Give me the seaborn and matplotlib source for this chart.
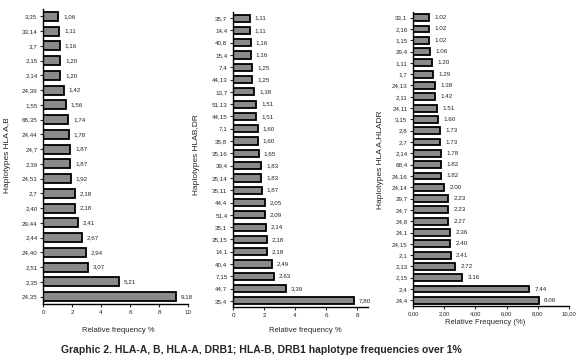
import matplotlib
matplotlib.use("Agg")
import matplotlib.pyplot as plt
import seaborn as sns
import pandas as pd

# HLA-A,B haplotypes
ab_labels = ["3,35", "33,14", "3,7", "2,15", "2,14", "24,39", "1,55", "68,35", "24,44", "24,7",
             "2,39", "24,51", "2,7", "2,40", "29,44", "2,44", "24,40", "2,51", "2,35", "24,35"]
ab_values = [1.06, 1.11, 1.16, 1.20, 1.20, 1.42, 1.56, 1.74, 1.78, 1.87,
             1.87, 1.92, 2.18, 2.18, 2.41, 2.67, 2.94, 3.07, 5.21, 9.18]

# HLA-B,DR haplotypes
bdr_labels = ["35,7", "14,4", "40,8", "15,4", "7,4", "44,13", "13,7", "51,13", "44,15", "7,1",
              "35,8", "35,16", "39,4", "35,14", "35,11", "44,4", "51,4", "35,1", "35,15", "14,1",
              "40,4", "7,15", "44,7", "35,4"]
bdr_values = [1.11, 1.11, 1.16, 1.16, 1.25, 1.25, 1.38, 1.51, 1.51, 1.60,
              1.60, 1.65, 1.83, 1.83, 1.87, 2.05, 2.09, 2.14, 2.18, 2.18,
              2.49, 2.63, 3.39, 7.80]

# HLA-A,DR haplotypes
adr_labels = ["33,1", "2,16", "1,15", "29,4", "1,11", "1,7", "24,13", "2,11", "24,11", "3,15",
              "2,8", "2,7", "2,14", "68,4", "24,16", "24,14", "29,7", "24,7", "24,8", "24,1",
              "24,15", "2,1", "2,13", "2,15", "2,4", "24,4"]
adr_values = [1.02, 1.02, 1.02, 1.06, 1.20, 1.29, 1.38, 1.42, 1.51, 1.60,
              1.73, 1.73, 1.78, 1.82, 1.82, 2.00, 2.23, 2.23, 2.27, 2.36,
              2.40, 2.41, 2.72, 3.16, 7.44, 8.06]

sns.set_style("white")
plt.rcParams['font.family'] = ['Liberation Sans', 'DejaVu Sans']

W, H = 579, 361
fig = plt.figure(figsize=(W / 100, H / 100), dpi=100)

def px_axes(left, right, top, bottom):
    return fig.add_axes([left / W, (H - bottom) / H, (right - left) / W, (bottom - top) / H])

def draw_panel(ax, labels, values, xmax, xticks, ticklabels, bar_w, dec_sep, xfs=4.5):
    df = pd.DataFrame({'hap': labels, 'freq': values})
    sns.barplot(data=df, x='freq', y='hap', orient='h', ax=ax, color='#8a8a8a',
                edgecolor='black', linewidth=1.3, width=bar_w, saturation=1)
    for i, v in enumerate(values):
        txt = f"{v:.2f}".replace('.', dec_sep)
        ax.text(v + xmax * 0.035, i, txt, va='center', ha='left', fontsize=4.5)
    ax.set_xlim(0, xmax)
    ax.set_ylim(len(labels) - 0.5, -0.5)
    ax.set_xticks(xticks)
    ax.set_xticklabels(ticklabels, fontsize=xfs)
    ax.tick_params(axis='y', labelsize=4.5, length=2, width=0.8, pad=2, left=True)
    ax.tick_params(axis='x', length=2, width=0.8, pad=2, bottom=True)
    ax.set_xlabel('')
    ax.set_ylabel('')
    for s in ['top', 'right']:
        ax.spines[s].set_visible(False)
    for s in ['left', 'bottom']:
        ax.spines[s].set_linewidth(1.0)
        ax.spines[s].set_color('black')

ax1 = px_axes(43, 188, 9, 304)
draw_panel(ax1, ab_labels, ab_values, 10, [0, 2, 4, 6, 8, 10],
           ["0", "2", "4", "6", "8", "10"], 0.6, ',')

ax2 = px_axes(233, 368, 12, 307)
draw_panel(ax2, bdr_labels, bdr_values, 8.7, [0, 2, 4, 6, 8],
           ["0", "2", "4", "6", "8"], 0.58, ',')

ax3 = px_axes(413, 569, 12, 306)
draw_panel(ax3, adr_labels, adr_values, 10, [0, 2, 4, 6, 8, 10],
           ["0,00", "2,00", "4,00", "6,00", "8,00", "10,00"], 0.6, '.', xfs=4.2)

# axis titles
fig.text(118 / W, 1 - 330 / H, "Relative frequency %", ha='center', va='center', fontsize=5.5)
fig.text(305 / W, 1 - 331 / H, "Relative frequency %", ha='center', va='center', fontsize=5.5)
fig.text(485 / W, 1 - 323 / H, "Relative Frequency (%)", ha='center', va='center', fontsize=5.5)
fig.text(8 / W, 1 - 155 / H, "Haplotypes HLA A,B", rotation=90, ha='center', va='center', fontsize=6)
fig.text(197 / W, 1 - 155 / H, "Haplotypes HLAB,DR", rotation=90, ha='center', va='center', fontsize=6)
fig.text(380 / W, 1 - 160 / H, "Haplotypes HLA A,HLADR", rotation=90, ha='center', va='center', fontsize=6)

fig.text(261 / W, 1 - 350 / H, "Graphic 2. HLA-A, B, HLA-A, DRB1; HLA-B, DRB1 haplotype frequencies over 1%",
         ha='center', va='center', fontsize=7.5, fontweight='bold')

fig.savefig("out.png", dpi=100)
